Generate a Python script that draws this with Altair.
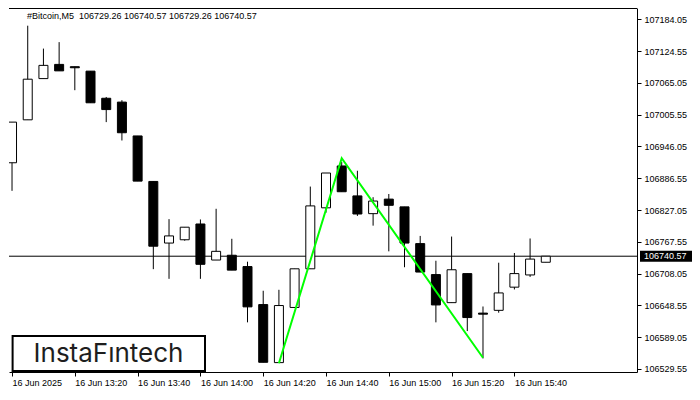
import json
import altair as alt
import pandas as pd

# ---------------- data ----------------
symbol_title = "#Bitcoin,M5\u00a0 106729.26 106740.57 106729.26 106740.57"
times = ["13:00", "13:05", "13:10", "13:15", "13:20", "13:25", "13:30", "13:35",
         "13:40", "13:45", "13:50", "13:55", "14:00", "14:05", "14:10", "14:15",
         "14:20", "14:25", "14:30", "14:35", "14:40", "14:45", "14:50", "14:55",
         "15:00", "15:05", "15:10", "15:15", "15:20", "15:25", "15:30", "15:35",
         "15:40", "15:45", "15:50"]
opens = [106915.6, 106996.0, 107073.2, 107099.8, 107095.5, 107087.2, 107036.4, 107029.2,
         106965.8, 106880.6, 106765.2, 106771.4, 106800.9, 106733.4, 106742.4, 106721.2,
         106650.0, 106541.3, 106644.6, 106717.0, 106831.2, 106909.6, 106853.5, 106820.3,
         106847.5, 106833.0, 106764.2, 106706.2, 106653.6, 106708.0, 106634.0, 106639.2,
         106682.6, 106705.5, 106729.26]
highs = [106991.7, 107172.3, 107129.4, 107141.5, 107095.5, 107087.2, 107038.8, 107032.8,
         106965.8, 106880.6, 106810.0, 106794.9, 106809.4, 106829.4, 106773.2, 106730.3,
         106675.9, 106677.7, 106717.0, 106871.0, 106896.4, 106917.4, 106900.6, 106851.1,
         106857.1, 106833.0, 106778.6, 106732.1, 106777.4, 106708.0, 106646.4, 106728.4,
         106746.6, 106773.8, 106740.57]
lows = [106863.0, 106996.0, 107073.2, 107087.7, 107051.5, 107027.9, 106991.7, 106957.3,
        106881.2, 106716.3, 106698.2, 106769.6, 106698.2, 106733.4, 106714.5, 106616.7,
        106541.9, 106541.3, 106644.6, 106717.0, 106822.1, 106861.3, 106816.0, 106797.8,
        106749.7, 106719.9, 106710.9, 106616.7, 106653.6, 106600.4, 106549.1, 106634.8,
        106678.3, 106701.8, 106729.26]
closes = [106991.7, 107072.1, 107098.0, 107087.7, 107093.5, 107027.9, 107015.2, 106971.8,
          106881.2, 106759.3, 106778.6, 106794.9, 106725.4, 106749.7, 106714.5, 106645.7,
          106541.9, 106648.2, 106717.0, 106834.8, 106896.4, 106861.3, 106819.6, 106843.9,
          106835.9, 106765.2, 106710.9, 106649.3, 106715.2, 106625.7, 106632.0, 106671.8,
          106708.0, 106735.2, 106740.57]

date_labels = ["16 Jun 2025", "16 Jun 13:20", "16 Jun 13:40", "16 Jun 14:00",
               "16 Jun 14:20", "16 Jun 14:40", "16 Jun 15:00", "16 Jun 15:20",
               "16 Jun 15:40"]
label_idx = [0, 4, 8, 12, 16, 20, 24, 28, 32]
price_ticks = [107184.05, 107124.55, 107065.05, 107005.55, 106946.05, 106886.55,
               106827.05, 106767.55, 106708.05, 106648.55, 106589.05, 106529.55]
last_price = 106740.57
last_price_label = "106740.57"
pattern_idx = [17, 21, 30]
pattern_price = [106540.0, 106924.1, 106550.4]
x_domain = [-0.193, 39.81]
y_domain = [106523.72, 107205.43]
logo_text = "InstaF\u0131ntech"

# ---------------- layout ----------------
W, H = 628, 364
FONT = "Liberation Sans"

candles = pd.DataFrame({"idx": list(range(len(times))), "time": times,
                        "open": opens, "high": highs, "low": lows, "close": closes})
pattern = pd.DataFrame({"idx": pattern_idx, "price": pattern_price})
lastdf = pd.DataFrame({"p": [last_price], "label": [last_price_label]})
one = pd.DataFrame({"t": [symbol_title], "logo": [logo_text]})

label_expr = "{}[indexof({}, datum.value)]".format(json.dumps(date_labels), json.dumps(label_idx))

xscale = alt.Scale(domain=x_domain, nice=False, zero=False, padding=0)
yscale = alt.Scale(domain=y_domain, nice=False, zero=False, padding=0)
xaxis = alt.Axis(values=label_idx, labelExpr=label_expr, grid=False, title=None,
                 domainColor="black", domainWidth=1, tickColor="black", tickSize=4,
                 labelAlign="left", labelBaseline="top", labelPadding=2,
                 labelFont=FONT, labelFontSize=9, labelColor="black",
                 labelOverlap=False, labelFlush=False)
yaxis = alt.Axis(orient="right", values=price_ticks, format=".2f", grid=False, title=None,
                 domainColor="black", domainWidth=1, tickColor="black", tickSize=4,
                 labelPadding=3, labelFont=FONT, labelFontSize=9, labelColor="black",
                 labelOverlap=False, labelFlush=False)

X = alt.X("idx:Q", scale=xscale, axis=xaxis)

price_line = alt.Chart(lastdf).mark_rule(color="black", strokeWidth=1).encode(
    y=alt.Y("p:Q", scale=yscale, axis=yaxis), x=alt.value(0), x2=alt.value(W))

wicks = alt.Chart(candles).mark_rule(color="black", strokeWidth=1, clip=True).encode(
    x=X, y=alt.Y("low:Q", scale=yscale, axis=yaxis), y2="high:Q")

bodies = alt.Chart(candles).mark_bar(size=9, stroke="black", strokeWidth=1, clip=True).encode(
    x=X, y=alt.Y("open:Q", scale=yscale, axis=yaxis), y2="close:Q",
    fill=alt.condition("datum.close >= datum.open", alt.value("white"), alt.value("black")))

zigzag = alt.Chart(pattern).mark_line(color="#00ff00", strokeWidth=2, clip=True).encode(
    x=X, y=alt.Y("price:Q", scale=yscale, axis=yaxis), order="idx:Q")

logo_box = alt.Chart(one).mark_rect(fill="white", stroke="black", strokeWidth=2).encode(
    x=alt.value(3.6), x2=alt.value(196), y=alt.value(328), y2=alt.value(363))
logo = alt.Chart(one).mark_text(font="Inter", fontSize=26, color="#1e1e1e",
                                align="center", baseline="middle").encode(
    x=alt.value(99.5), y=alt.value(346), text="logo:N")

title = alt.Chart(one).mark_text(font=FONT, fontSize=9, color="black",
                                 align="left", baseline="middle").encode(
    x=alt.value(18), y=alt.value(8), text="t:N")

top_rule = alt.Chart(one).mark_rule(color="black", strokeWidth=1).encode(
    x=alt.value(0), x2=alt.value(W), y=alt.value(0.5))

tag_box = alt.Chart(lastdf).mark_rect(color="black", yOffset=-5.5, y2Offset=5.5).encode(
    y=alt.Y("p:Q", scale=yscale, axis=yaxis), y2="p:Q",
    x=alt.value(W + 3), x2=alt.value(W + 55))
tag_text = alt.Chart(lastdf).mark_text(font=FONT, fontSize=9, color="white",
                                       align="left", baseline="middle").encode(
    y=alt.Y("p:Q", scale=yscale, axis=yaxis), x=alt.value(W + 7), text="label:N")

chart = alt.layer(price_line, wicks, bodies, zigzag, logo_box, logo, title, top_rule,
                  tag_box, tag_text).properties(
    width=W, height=H, padding=0, background="white"
).configure_view(stroke=None)

chart.save("out.html", embed_options={"renderer": "svg", "actions": False})
